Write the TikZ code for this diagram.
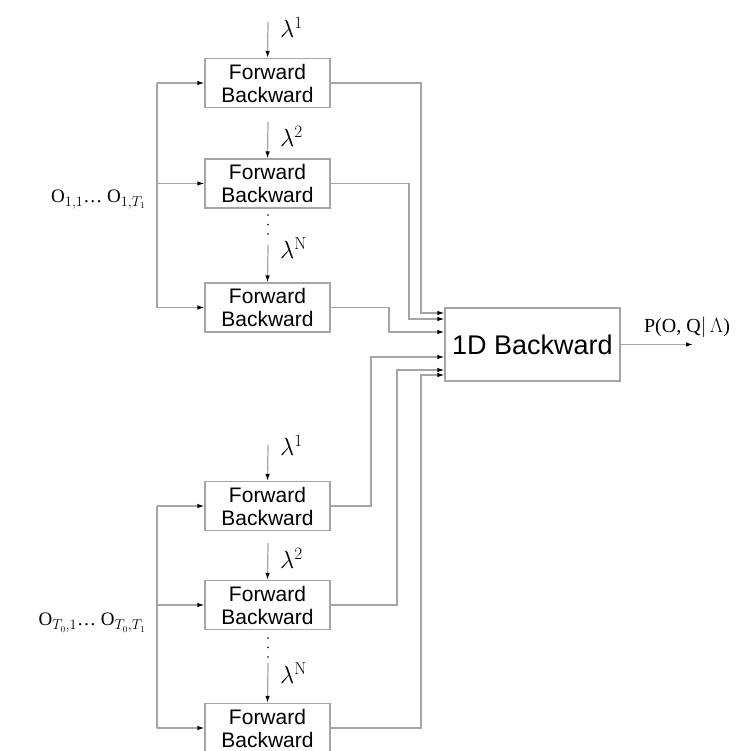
\documentclass[tikz,border=0pt]{standalone}
\usepackage[no-math]{fontspec}
\setmainfont{Liberation Sans}
\newfontfamily\obsfont{Liberation Serif}
\usetikzlibrary{arrows.meta}
\definecolor{linegray}{RGB}{165,165,165}

\begin{document}
\begin{tikzpicture}
[x=1pt,y=-1pt,
  fbdecorate/.style={shape=rectangle,draw=linegray,line width=1.2pt,
    minimum width=125pt,minimum height=49pt,inner sep=0pt,align=center,
    font=\fontsize{21}{23}\selectfont},
  bigdecorate/.style={shape=rectangle,draw=linegray,line width=1.2pt,
    minimum width=175pt,minimum height=73pt,inner sep=0pt,
    font=\fontsize{27}{27}\selectfont},
  linedecorate/.style={draw=linegray,line width=1.2pt},
  arrowdecorate/.style={linedecorate,
    -{Latex[length=7pt,width=4.5pt,color=black]}},
  lambdadecorate/.style={anchor=west,inner sep=0pt,font=\fontsize{25}{25}\selectfont},
  obsdecorate/.style={anchor=east,inner sep=0pt,font=\fontsize{19}{19}\obsfont}]
\useasboundingbox (0,0) rectangle (738,751);
%% forward-backward blocks
\foreach \nodename/\y in {fa/83, fb/183.5, fc/307.5, fd/506, fe/605, ff/728} {
  \node (\nodename) at (267.5,\y) [fbdecorate] {Forward\\Backward};
}
\node (bw) at (532.5,344.5) [bigdecorate] {1D Backward};
%% model inputs from above
\foreach \nodename/\ystart/\ylabel/\sup in {fa/22/27/1, fb/122/136/2, fc/245/248/N,
  fd/445/445/1, fe/543/558/2, ff/663/673/N} {
  \coordinate (top\nodename) at (268,\ystart);
  \draw[arrowdecorate] (top\nodename) -- (\nodename.north);
  \node [lambdadecorate] at (280,\ylabel) {$\lambda^{\mathrm{\sup}}$};
}
\foreach \y in {215, 224.5, 234, 638, 647.5, 657} {
  \fill (268,\y) circle (0.9pt);
}
%% observation buses
\foreach \busname/\y in {ba/83, bb/183.5, bc/307.5, bd/506, be/605, bf/728} {
  \coordinate (\busname) at (157,\y);
}
\draw[linedecorate] (ba) -- (bc);
\draw[linedecorate] (bd) -- (bf);
\path
\foreach \startnode/\endnode in {ba/fa, bb/fb, bc/fc, bd/fd, be/fe, bf/ff} {
  (\startnode) edge[arrowdecorate] (\endnode.west)
};
\node [obsdecorate] at (146,200) {O$_{1,1}$\ldots{} O$_{1,T_1}$};
\node [obsdecorate] at (146,623) {O$_{T_0,1}$\ldots{} O$_{T_0,T_1}$};
%% into the 1D backward block
\foreach \nodename/\xx/\yy in {fa/421/313, fb/409/319, fc/389/332,
  fd/371/357, fe/397/370, ff/421/375} {
  \draw[arrowdecorate] (\nodename.east) -| (\xx,\yy) -- (\xx,\yy -| bw.west);
}
%% result
\coordinate (out) at (693,344.5);
\draw[arrowdecorate] (bw.east) -- (out);
\node [inner sep=0pt,font=\fontsize{20}{20}\obsfont] at (687,327)
  {P(O, Q$|\,\Lambda$)};
\end{tikzpicture}
\end{document}
